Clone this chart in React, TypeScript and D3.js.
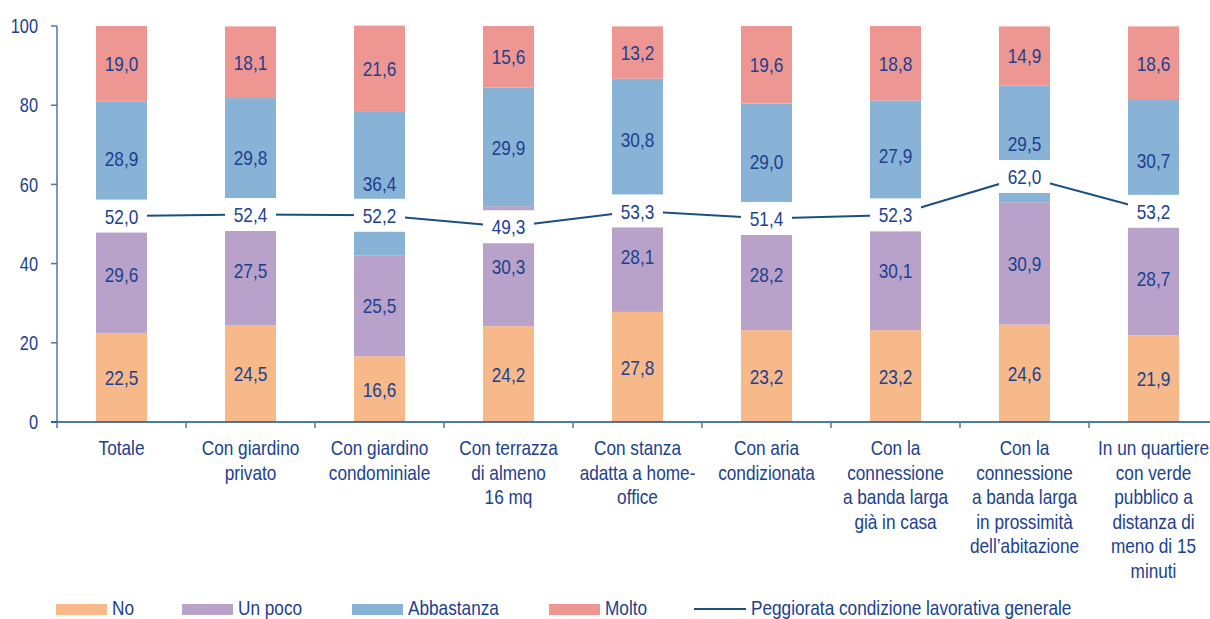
import React from "react";
import * as d3 from "d3";

const categories: string[][] = [
  ["Totale"],
  ["Con giardino", "privato"],
  ["Con giardino", "condominiale"],
  ["Con terrazza", "di almeno", "16 mq"],
  ["Con stanza", "adatta a home-", "office"],
  ["Con aria", "condizionata"],
  ["Con la", "connessione", "a banda larga", "già in casa"],
  ["Con la", "connessione", "a banda larga", "in prossimità", "dell’abitazione"],
  ["In un quartiere", "con verde", "pubblico a", "distanza di", "meno di 15", "minuti"],
];

const seriesNames = ["No", "Un poco", "Abbastanza", "Molto"];
const noValues = [22.5, 24.5, 16.6, 24.2, 27.8, 23.2, 23.2, 24.6, 21.9];
const unPocoValues = [29.6, 27.5, 25.5, 30.3, 28.1, 28.2, 30.1, 30.9, 28.7];
const abbastanzaValues = [28.9, 29.8, 36.4, 29.9, 30.8, 29.0, 27.9, 29.5, 30.7];
const moltoValues = [19.0, 18.1, 21.6, 15.6, 13.2, 19.6, 18.8, 14.9, 18.6];
const lineName = "Peggiorata condizione lavorativa generale";
const lineValues = [52.0, 52.4, 52.2, 49.3, 53.3, 51.4, 52.3, 62.0, 53.2];
const yTicks = [0, 20, 40, 60, 80, 100];

const colors = ["#f7b98a", "#b8a2c9", "#88b2d6", "#ee9692"];
const textColor = "#203f8e";
const axisColor = "#4b78aa";
const lineColor = "#1a4f80";
const FONT = "'Liberation Sans', Arial, sans-serif";
const SX = 0.82;

const fmt = (v: number) => v.toFixed(1).replace(".", ",");

function NText(props: {
  x: number;
  y: number;
  size?: number;
  anchor?: "start" | "middle" | "end";
  center?: boolean;
  children: React.ReactNode;
}) {
  const { x, y, size = 21, anchor = "middle", center = false, children } = props;
  return (
    <text
      transform={`translate(${x},${y}) scale(${SX},1)`}
      textAnchor={anchor}
      dy={center ? "0.36em" : undefined}
      fontSize={size}
      fill={textColor}
    >
      {children}
    </text>
  );
}

export default function App() {
  const W = 1210, H = 619;
  const x0 = 57, step = 129;
  const keys = categories.map((_, i) => String(i));
  const x = d3.scaleBand<string>().domain(keys).range([x0, x0 + step * keys.length]).padding(0);
  const y = d3.scaleLinear().domain([0, 100]).range([422, 26]);
  const barW = 51;

  const rows = keys.map((k, i) => ({
    k,
    No: noValues[i],
    "Un poco": unPocoValues[i],
    Abbastanza: abbastanzaValues[i],
    Molto: moltoValues[i],
  }));
  const stacked = d3.stack<any>().keys(seriesNames)(rows);

  const cx = (i: number) => (x(keys[i]) as number) + x.bandwidth() / 2;
  const linePath = d3
    .line<number>()
    .x((_, i) => cx(i))
    .y((d) => y(d))(lineValues) as string;

  const legendItems = [
    { label: "No", x: 56, color: colors[0] },
    { label: "Un poco", x: 182, color: colors[1] },
    { label: "Abbastanza", x: 352, color: colors[2] },
    { label: "Molto", x: 549, color: colors[3] },
  ];

  return (
    <svg width={W} height={H} style={{ position: "absolute", left: 0, top: 0, fontFamily: FONT }}>
      <rect width={W} height={H} fill="#fff" />
      {/* bars */}
      {stacked.map((s, si) => (
        <g key={si}>
          {s.map((d, i) => (
            <rect
              key={i}
              x={cx(i) - barW / 2}
              y={y(d[1])}
              width={barW}
              height={y(d[0]) - y(d[1])}
              fill={colors[si]}
            />
          ))}
        </g>
      ))}
      {/* segment labels */}
      {stacked.map((s, si) => (
        <g key={"l" + si}>
          {s.map((d, i) => (
            <NText key={i} x={cx(i)} y={y((d[0] + d[1]) / 2)} center>
              {fmt(d[1] - d[0])}
            </NText>
          ))}
        </g>
      ))}
      {/* line */}
      <path d={linePath} fill="none" stroke={lineColor} strokeWidth={2} />
      {lineValues.map((v, i) => (
        <g key={"b" + i}>
          <rect x={cx(i) - 25.5} y={y(v) - 16.5} width={51} height={33} fill="#fff" />
          <NText x={cx(i)} y={y(v)} center>
            {fmt(v)}
          </NText>
        </g>
      ))}
      {/* y axis */}
      <line x1={x0} x2={x0} y1={y(100)} y2={y(0)} stroke={axisColor} strokeWidth={1.5} />
      {yTicks.map((t) => (
        <g key={t}>
          <line x1={x0 - 6} x2={x0} y1={y(t)} y2={y(t)} stroke={axisColor} strokeWidth={1.5} />
          <NText x={38} y={y(t)} size={20} anchor="end" center>
            {t}
          </NText>
        </g>
      ))}
      {/* x axis */}
      <line x1={x0 - 6} x2={W} y1={y(0)} y2={y(0)} stroke={lineColor} strokeWidth={1.5} />
      {keys.map((k) => (
        <line
          key={k}
          x1={x(k) as number}
          x2={x(k) as number}
          y1={y(0)}
          y2={y(0) + 6}
          stroke={axisColor}
          strokeWidth={1.5}
        />
      ))}
      {categories.map((lines, i) =>
        lines.map((ln, j) => (
          <NText key={i + "-" + j} x={cx(i)} y={455 + j * 24.5}>
            {ln}
          </NText>
        ))
      )}
      {/* legend */}
      {legendItems.map((it) => (
        <g key={it.label}>
          <rect x={it.x} y={604} width={51} height={11} fill={it.color} />
          <NText x={it.x + 56} y={615} anchor="start">
            {it.label}
          </NText>
        </g>
      ))}
      <line x1={694} x2={746} y1={609} y2={609} stroke={lineColor} strokeWidth={2} />
      <NText x={751} y={615} anchor="start">
        {lineName}
      </NText>
    </svg>
  );
}
